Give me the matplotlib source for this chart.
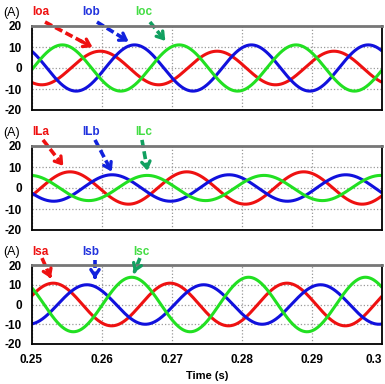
import numpy as np
import matplotlib
matplotlib.use("Agg")
import matplotlib.pyplot as plt

plt.rcParams['font.family'] = ['Liberation Sans', 'DejaVu Sans']

# time window and grid frequency
t_start, t_end = 0.25, 0.30
freq = 60.0

# amplitude (A) and time of first peak (s) for each phase
names_o = ["Ioa", "Iob", "Ioc"]
amp_o = [8.0, 11.0, 11.0]
peak_o = [0.2598, 0.2647, 0.2544]

names_L = ["ILa", "ILb", "ILc"]
amp_L = [7.7, 6.3, 6.0]
peak_L = [0.2555, 0.2615, 0.2665]

names_s = ["Isa", "Isb", "Isc"]
amp_s = [10.8, 10.0, 13.8]
peak_s = [0.2531, 0.2579, 0.2643]

xticks = [0.25, 0.26, 0.27, 0.28, 0.29, 0.30]
xtick_labels = ["0.25", "0.26", "0.27", "0.28", "0.29", "0.3"]
yticks = [-20, -10, 0, 10, 20]

line_cols = ["#ee1111", "#1111dd", "#22e022"]
text_cols = ["#ee1111", "#2233dd", "#44dd44"]
arrow_cols = ["#ee1111", "#1122dd", "#11a060"]

# label / arrow placement (data coords): text x, arrow start (x,y), arrow end (x,y)
ann_o = [(0.25128, (0.25193, 21.9), (0.25906, 9.3)),
         (0.25849, (0.25934, 21.9), (0.26419, 11.9)),
         (0.26598, (0.26690, 21.9), (0.26933, 11.9))]
ann_L = [(0.25128, (0.25164, 22.9), (0.25478, 9.5)),
         (0.25853, (0.25906, 22.9), (0.26163, 6.6)),
         (0.26595, (0.26576, 22.9), (0.26662, 6.9))]
ann_s = [(0.25121, (0.2515, 23.5), (0.25292, 12.0)),
         (0.25842, (0.25906, 22.5), (0.25906, 11.6)),
         (0.26572, (0.26547, 23.5), (0.26448, 14.8))]

fig = plt.figure(figsize=(3.85, 3.84), dpi=100)
W, H = 385.0, 384.0
left, right = 31.5, 382.0
panels = [(26, 110, names_o, amp_o, peak_o, ann_o),
          (146, 230, names_L, amp_L, peak_L, ann_L),
          (265, 344, names_s, amp_s, peak_s, ann_s)]

t = np.linspace(t_start, t_end, 1000)
for k, (top, bot, names, amps, peaks, anns) in enumerate(panels):
    ax = fig.add_axes([left / W, 1 - bot / H, (right - left) / W, (bot - top) / H])
    for i in range(3):
        y = amps[i] * np.cos(2 * np.pi * freq * (t - peaks[i]))
        ax.plot(t, y, color=line_cols[i], lw=2.2, solid_capstyle='butt')
    ax.set_xlim(t_start, t_end)
    ax.set_ylim(-20, 20)
    ax.set_xticks(xticks)
    ax.set_yticks(yticks)
    ax.set_yticklabels([str(v) for v in yticks], fontsize=8.5, fontweight='bold')
    if k == 2:
        labs = ax.set_xticklabels(xtick_labels, fontsize=8.5, fontweight='bold')
        labs[-1].set_horizontalalignment('right')
        ax.set_xlabel("Time (s)", fontsize=8, fontweight='bold', labelpad=4)
    else:
        ax.set_xticklabels([])
    ax.tick_params(length=0, pad=7)
    ax.grid(True, ls=':', color='#999999', lw=0.9)
    for s in ['left', 'bottom', 'right']:
        ax.spines[s].set_linewidth(1.3)
        ax.spines[s].set_color('black')
    ax.spines['top'].set_linewidth(2.0)
    ax.spines['top'].set_color('#777777')

    for i in range(3):
        tx, (sx, sy), (ex, ey) = anns[i]
        ax.text(tx, 26.7 if k < 2 else 26.6, names[i], color=text_cols[i],
                fontsize=8.5, fontweight='bold', ha='center', va='center', clip_on=False)
        # dashed shaft
        fx = sx + 0.8 * (ex - sx)
        fy = sy + 0.8 * (ey - sy)
        ax.plot([sx, fx], [sy, fy], color=arrow_cols[i], lw=2.6, ls=(0, (2.2, 1.0)),
                clip_on=False, solid_capstyle='butt', dash_capstyle='butt')
        ax.annotate("", xy=(ex, ey), xytext=(fx - 0.15 * (ex - sx), fy - 0.15 * (ey - sy)),
                    arrowprops=dict(arrowstyle='->,head_length=0.45,head_width=0.3',
                                    color=arrow_cols[i], lw=2.4),
                    annotation_clip=False)

    fig.text(11.5 / W, 1 - (top - 13) / H, "(A)", fontsize=9, ha='center', va='center')

fig.savefig("out.png", dpi=100)
